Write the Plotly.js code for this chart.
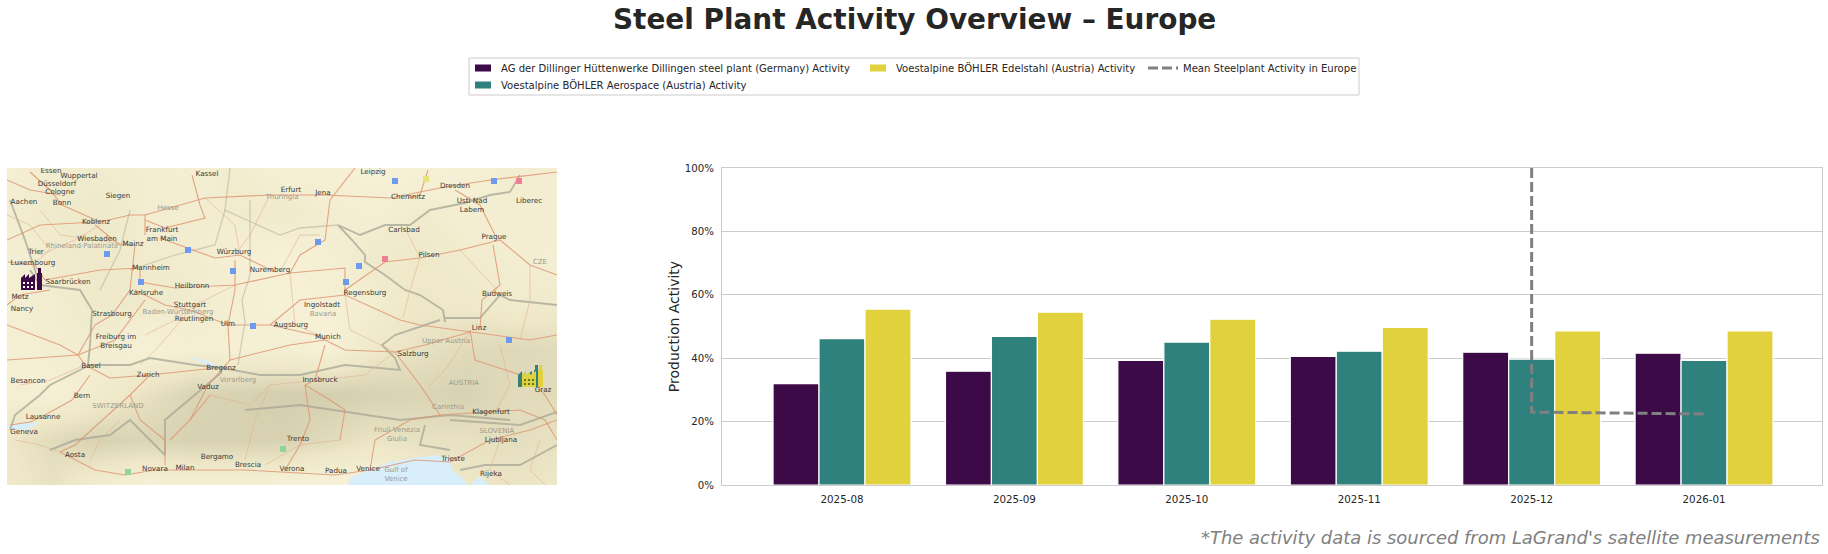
<!DOCTYPE html>
<html><head><meta charset="utf-8">
<script src="https://cdn.plot.ly/plotly-3.0.1.min.js"></script>
<style>html,body{margin:0;padding:0;background:#fff}</style></head>
<body><div id="chart" style="width:1828px;height:554px"></div>
<script>
const months = ['2025-08','2025-09','2025-10','2025-11','2025-12','2026-01'];
const dillingen = [32.0,35.9,39.3,40.6,41.9,41.6];
const aerospace = [46.2,46.9,45.1,42.2,39.7,39.3];
const edelstahl = [55.5,54.5,52.3,49.7,48.6,48.6];
const meanMonths = ['2025-12','2025-12','2026-01'];
const meanValues = [100,23.0,22.4];
const yTicks = [0,20,40,60,80,100];
const yTickLabels = ['0%','20%','40%','60%','80%','100%'];

// Map reading: positions (picture pixels)
const terrainX = [7,53,99,145,191,237,282,328,374,420,466,512,557];
const terrainY = [168,213,258,303,349,394,440,485];
const terrainZ = [
 [.25,.3,.35,.3,.25,.35,.2,.2,.15,.15,.2,.3,.3],
 [.3,.4,.45,.3,.3,.35,.4,.3,.25,.35,.25,.3,.3],
 [.25,.35,.45,.35,.35,.2,.15,.25,.4,.45,.35,.3,.25],
 [.25,.3,.45,.4,.35,.25,.15,.2,.3,.5,.45,.35,.4],
 [.2,.3,.3,.15,.25,.2,.25,.15,.45,.6,.7,.75,.7],
 [.25,.2,.35,.6,.8,.85,.9,.9,.85,.8,.85,.7,.7],
 [.5,.7,.85,.8,.85,.85,.85,.7,.55,.6,.6,.65,.6],
 [.45,.6,.3,.15,.2,.2,.15,.1,.1,.4,.5,.55,.5]];
const roads = [
 [[30,172],[50,190],[62,205],[100,222],[130,215],[145,215],[145,235]],
 [[192,175],[200,205],[205,218],[165,228],[145,220]],
 [[145,215],[205,198],[270,195],[325,195],[390,198],[440,188],[490,180],[557,172]],
 [[160,238],[215,258],[240,255],[275,272]],
 [[140,270],[140,282],[175,288],[235,285],[290,273]],
 [[135,290],[165,305],[190,310],[228,325],[270,325],[315,335]],
 [[290,273],[345,268],[345,295],[400,320],[420,325],[470,332],[530,340],[557,335]],
 [[315,335],[345,350],[395,352],[425,345],[470,332]],
 [[355,168],[330,200],[325,240],[300,255],[290,273]],
 [[500,240],[460,250],[420,258],[385,262],[345,290]],
 [[455,190],[480,205],[495,235]],
 [[500,240],[530,265],[557,275]],
 [[493,245],[500,285],[482,300],[480,330]],
 [[325,345],[315,380],[305,385]],
 [[305,385],[310,420],[300,445],[285,470]],
 [[155,470],[185,470],[245,470],[335,475],[370,470],[415,460],[450,462]],
 [[85,365],[110,378],[150,375],[200,370],[215,368]],
 [[90,375],[72,400],[45,415],[30,422],[10,425]],
 [[95,325],[78,355],[85,365]],
 [[45,280],[100,270],[140,268]],
 [[45,280],[35,265],[8,262]],
 [[50,290],[20,295],[7,305]],
 [[395,352],[420,385],[440,415],[520,410],[545,420],[557,440]],
 [[470,330],[475,360],[530,378],[545,395],[557,415]],
 [[450,462],[490,440],[530,430],[557,420]],
 [[60,452],[95,470],[125,475],[155,470]],
 [[130,395],[140,420],[165,440],[165,465]],
 [[210,395],[190,420],[170,440]],
 [[95,225],[120,245],[135,245],[130,290],[112,315],[95,325]],
 [[235,260],[235,290],[228,325],[230,360],[208,385],[190,420]],
 [[7,180],[30,190],[60,195]],
 [[7,240],[40,225],[96,222]],
 [[270,325],[300,300],[345,295]],
 [[230,360],[290,345],[325,340]],
 [[145,300],[115,340],[78,355],[7,360]],
 [[7,325],[60,345],[78,355]],
 [[150,375],[130,395],[75,445],[60,452]],
 [[428,170],[420,195],[408,198]],
 [[340,440],[345,410],[330,400],[305,385]],
 [[370,470],[375,440],[410,420],[440,415]]
];
const minorRoads = [
 [[40,210],[60,235],[95,240],[130,245]],
 [[40,255],[75,240],[100,225]],
 [[205,198],[235,225],[240,255]],
 [[270,195],[250,235],[235,255]],
 [[280,272],[300,235],[320,235]],
 [[190,310],[160,345],[140,365]],
 [[235,285],[195,305],[175,320],[145,335]],
 [[290,273],[295,325],[330,340]],
 [[345,295],[350,330],[395,352]],
 [[420,258],[410,290],[403,318]],
 [[405,228],[420,258]],
 [[460,250],[497,290]],
 [[530,265],[530,300],[520,340]],
 [[470,332],[445,370],[430,385]],
 [[500,345],[510,385],[495,412]],
 [[395,352],[365,375],[320,380],[270,385]],
 [[270,385],[255,420],[245,460]],
 [[210,395],[250,405],[270,385]],
 [[340,440],[300,445],[265,465]],
 [[500,440],[490,470],[510,485]],
 [[540,440],[530,470],[545,485]],
 [[15,440],[40,445],[60,452]],
 [[20,385],[50,380],[85,365]],
 [[120,420],[100,440],[90,460]],
 [[7,215],[30,225],[50,250],[36,262]]
];
const borders = [
 [[465,203],[430,210],[410,225],[385,225],[360,235],[338,225],[352,240],[365,255],[365,262],[385,275],[405,290],[420,295],[443,310],[445,322]],
 [[445,318],[480,318],[500,295],[510,300],[557,305]],
 [[440,320],[395,335],[382,345],[395,358],[400,370],[345,365],[300,375],[260,375],[222,368]],
 [[222,368],[195,365],[150,358],[130,365],[90,365]],
 [[90,365],[50,385],[40,395],[15,415],[10,430]],
 [[50,450],[75,440],[110,435],[130,420],[155,445],[165,455],[165,420],[200,390],[222,372]],
 [[245,410],[300,405],[400,420],[450,415],[510,420]],
 [[450,420],[520,425],[557,412]],
 [[425,425],[420,445],[450,450]],
 [[460,470],[485,465],[520,465],[557,445]],
 [[30,270],[40,285],[80,290],[92,310],[90,345],[88,365]],
 [[40,285],[25,240],[10,200]],
 [[465,203],[490,195],[510,192],[520,175]]
];
const stateBorders = [
 [[250,200],[250,275],[242,300],[245,322],[238,365]],
 [[230,168],[225,210],[280,235],[300,228],[338,225]],
 [[130,210],[120,250],[100,290]],
 [[130,270],[175,255],[215,245],[225,210]]
];
const waters = [
 [[348,485],[350,478],[365,472],[390,462],[420,457],[440,455],[450,460],[452,470],[462,478],[468,485]],
 [[470,485],[480,476],[490,485]],
 [[7,425],[25,423],[40,423],[25,430],[7,428]],
 [[188,357],[205,360],[222,368],[205,364]]
];
const cityNames = ['Essen','Wuppertal','Düsseldorf','Cologne','Bonn','Siegen','Kassel','Erfurt','Jena','Leipzig','Dresden','Chemnitz','Usti Nad<br>Labem','Koblenz','Wiesbaden','Mainz','Frankfurt<br>am Main','Trier','Luxembourg','Saarbrücken','Mannheim','Würzburg','Nuremberg','Heilbronn','Karlsruhe','Stuttgart','Strasbourg','Reutlingen','Ulm','Augsburg','Ingolstadt','Regensburg','Carlsbad','Pilsen','Prague','Liberec','Budweis','Linz','Munich','Salzburg','Innsbruck','Klagenfurt','Ljubljana','Graz','Trieste','Rijeka','Venice','Padua','Verona','Trento','Bregenz','Vaduz','Basel','Freiburg im<br>Breisgau','Zurich','Bern','Lausanne','Geneva','Aosta','Novara','Milan','Bergamo','Brescia','Nancy','Metz','Aachen','Besancon'];
const cityX = [51,79,57,60,62,118,207,291,323,373,455,408,472,96,97,133,162,36,33,68,151,234,270,192,146,190,112,194,228,291,322,365,404,429,494,529,497,479,328,413,320,491,501,543,453,491,368,336,292,298,221,208,91,116,148,82,43,24,75,155,185,217,248,22,20,24,28];
const cityY = [171,176,184,192,203,196,174,190,193,172,186,197,206,222,239,244,235,252,263,282,268,252,270,286,293,305,314,319,324,325,305,293,230,255,237,201,294,328,337,354,380,412,440,390,459,474,469,471,469,439,368,387,366,342,375,396,417,432,455,469,468,457,465,309,297,202,381];
const regionNames = ['Hesse','Thuringia','Rhineland-Palatinate','Baden-Württemberg','Bavaria','CZE','Upper Austria','AUSTRIA','SLOVENIA','Carinthia','Friuli Venezia<br>Giulia','SWITZERLAND','Vorarlberg','Gulf of<br>Venice'];
const regionX = [168,282,82,178,323,540,446,464,497,448,397,118,238,396];
const regionY = [208,197,246,312,314,262,341,383,431,407,435,406,380,475];
const blueShieldX = [395,107,188,318,359,233,346,141,253,494,509];
const blueShieldY = [181,254,250,242,266,271,282,282,326,181,340];
const redShieldX = [385,519];
const redShieldY = [259,181];
const greenShieldX = [128,283];
const greenShieldY = [472,449];
const yellowShieldX = [426];
const yellowShieldY = [179];

const plantNames = ['AG der Dillinger Hüttenwerke','Voestalpine BÖHLER Aerospace','Voestalpine BÖHLER Edelstahl'];
const plantX = [21,518,522];
const plantY = [290,387,387];
const plantColors = ['#3c0b47','#2e817c','#e1d13c'];
const iconX = [0,0,4,4,8,8,14,14,0,null,16,16,17,17,20,20,21,21,22,22,16];
const iconY = [0,12,16,12,16,12,16,0,0,null,0,17,17,22,22,17,17,0,0,0,0];
const windowX = [3,7,11,3,7,11];
const windowY = [3,3,3,7,7,7];

function pathX(p){const a=[];p.forEach(l=>{l.forEach(q=>a.push(q[0]));a.push(null)});return a}
function pathY(p){const a=[];p.forEach(l=>{l.forEach(q=>a.push(q[1]));a.push(null)});return a}

const barColors = ['#3c0b47','#2e817c','#e1d13c'];
const barNames = ['AG der Dillinger Hüttenwerke Dillingen steel plant (Germany) Activity','Voestalpine BÖHLER Aerospace (Austria) Activity','Voestalpine BÖHLER Edelstahl (Austria) Activity'];
const barValues = [dillingen,aerospace,edelstahl];
const legendIds = ['legend','legend2','legend3'];

const traces = [];
barValues.forEach((v,i)=>traces.push({type:'bar',x:months,y:v,name:barNames[i],legend:legendIds[i],
  marker:{color:barColors[i],line:{color:'#ffffff',width:1.2}},hoverinfo:'y'}));
traces.push({type:'scatter',mode:'lines',x:meanMonths,y:meanValues,name:'Mean Steelplant Activity in Europe',legend:'legend4',
  line:{color:'#808080',width:3,dash:'10px,4px'}});

// map panel
const mp = {xaxis:'x2',yaxis:'y2',showlegend:false,hoverinfo:'skip'};
traces.push({...mp,type:'heatmap',x:terrainX,y:terrainY,z:terrainZ,zmin:0,zmax:1,zsmooth:'best',showscale:false,
  colorscale:[[0,'#faf4de'],[.5,'#eee8c8'],[1,'#cdc8a8']]});
traces.push({...mp,type:'scatter',mode:'lines',x:pathX(waters),y:pathY(waters),fill:'toself',fillcolor:'#d8eefa',line:{width:0,color:'#d8eefa'}});
traces.push({...mp,type:'scatter',mode:'lines',x:pathX(stateBorders),y:pathY(stateBorders),line:{color:'rgba(175,175,160,0.55)',width:1.3}});
traces.push({...mp,type:'scatter',mode:'lines',x:pathX(borders),y:pathY(borders),line:{color:'rgba(165,165,150,0.75)',width:1.9}});
traces.push({...mp,type:'scatter',mode:'lines',x:pathX(minorRoads),y:pathY(minorRoads),line:{color:'rgba(225,175,140,0.7)',width:0.8}});
traces.push({...mp,type:'scatter',mode:'lines',x:pathX(roads),y:pathY(roads),line:{color:'rgba(222,150,115,0.85)',width:1.1}});
[[blueShieldX,blueShieldY,'#6c9bee'],[redShieldX,redShieldY,'#ee7f96'],[greenShieldX,greenShieldY,'#8fd49a'],[yellowShieldX,yellowShieldY,'#e8e27a']].forEach(s=>
  traces.push({...mp,type:'scatter',mode:'markers',x:s[0],y:s[1],marker:{symbol:'square',size:6,color:s[2]}}));
traces.push({...mp,type:'scatter',mode:'text',x:regionX,y:regionY,text:regionNames,textposition:'middle center',
  textfont:{family:'DejaVu Sans',size:7,color:'#9a9a8e'}});
traces.push({...mp,type:'scatter',mode:'text',x:cityX,y:cityY,text:cityNames,textposition:'middle center',
  textfont:{family:'DejaVu Sans',size:7.2,color:'#3a3a36'}});
plantNames.forEach((n,i)=>{
  traces.push({...mp,type:'scatter',mode:'lines',name:n,x:iconX.map(v=>v===null?null:plantX[i]+v),y:iconY.map(v=>v===null?null:plantY[i]-v),
    fill:'toself',fillcolor:plantColors[i],line:{width:0,color:plantColors[i]}});
  traces.push({...mp,type:'scatter',mode:'markers',x:windowX.map(v=>plantX[i]+v),y:windowY.map(v=>plantY[i]-v),
    marker:{symbol:'square',size:2,color:i===0?'#ffffff':'#5a7a30'}});
});

const axisGrey = '#cccccc', ink = '#262626';
const H = 554, W = 1828;
const px = v=>v/W, py = v=>1-v/H;
const legendBase = {orientation:'h',xanchor:'left',yanchor:'middle',bgcolor:'rgba(0,0,0,0)',borderwidth:0,
  font:{family:'DejaVu Sans',size:10.05,color:ink},itemclick:false,itemdoubleclick:false};
const layout = {
  width:W,height:H,margin:{l:0,r:0,t:0,b:0},paper_bgcolor:'#ffffff',plot_bgcolor:'#ffffff',
  barmode:'group',bargap:0.2,bargroupgap:0,showlegend:true,
  font:{family:'DejaVu Sans',color:ink},
  xaxis:{domain:[px(722),px(1822)],type:'category',categoryorder:'array',categoryarray:months,range:[-0.696,5.684],
    showgrid:false,zeroline:false,showline:true,mirror:true,linecolor:axisGrey,linewidth:1,ticks:'',
    tickfont:{size:10.3,color:ink},ticklabelstandoff:5,anchor:'y'},
  yaxis:{domain:[1-485/H,1-168/H],range:[0,100],tickvals:yTicks,ticktext:yTickLabels,gridcolor:axisGrey,gridwidth:1,
    zeroline:false,showline:true,mirror:true,linecolor:axisGrey,linewidth:1,ticks:'',
    tickfont:{size:10.2,color:ink},ticklabelstandoff:5,anchor:'x',
    title:{text:'Production Activity',font:{size:14,color:ink},standoff:1}},
  xaxis2:{domain:[px(7),px(557)],range:[7,557],visible:false,anchor:'y2',fixedrange:true},
  yaxis2:{domain:[1-485/H,1-168/H],range:[485,168],visible:false,anchor:'x2',fixedrange:true},
  legend:{...legendBase,x:px(461),y:py(68)},
  legend2:{...legendBase,x:px(461),y:py(85)},
  legend3:{...legendBase,x:px(856),y:py(68)},
  legend4:{...legendBase,x:px(1143),y:py(68)},
  shapes:[{type:'rect',xref:'paper',yref:'paper',x0:px(469),x1:px(1359),y0:py(58),y1:py(95),line:{color:axisGrey,width:1},layer:'below'}],
  annotations:[
    {xref:'paper',yref:'paper',x:px(914),y:py(20),xanchor:'center',yanchor:'middle',showarrow:false,
     text:'<b>Steel Plant Activity Overview – Europe</b>',font:{family:'DejaVu Sans',size:27.9,color:ink}},
    {xref:'paper',yref:'paper',x:px(1822),y:py(537),xanchor:'right',yanchor:'middle',showarrow:false,
     text:"<i>*The activity data is sourced from LaGrand's satellite measurements</i>",font:{family:'DejaVu Sans',size:17.95,color:'#808080'}}
  ]
};
function tweakLegend(){
  document.querySelectorAll('g.legendpoints path').forEach(p=>{
    if(p.classList.contains('js-line')){
      p.setAttribute('d','M12,0h21');
    } else if(p.classList.contains('legendbar')||p.getAttribute('class')===null||/legendbar|legendundefined/.test(p.getAttribute('class'))){
      p.setAttribute('d','M-8,-3.5H8V3.5H-8Z');p.style.strokeWidth='0';
      p.setAttribute('transform','translate(22,0)');
    }
  });
}
const gd = document.getElementById('chart');
Plotly.newPlot(gd,traces,layout,{displayModeBar:false,responsive:false}).then(()=>{
  tweakLegend();
  gd.on('plotly_afterplot',tweakLegend);
  setTimeout(tweakLegend,50);setTimeout(tweakLegend,300);
});
</script></body></html>
